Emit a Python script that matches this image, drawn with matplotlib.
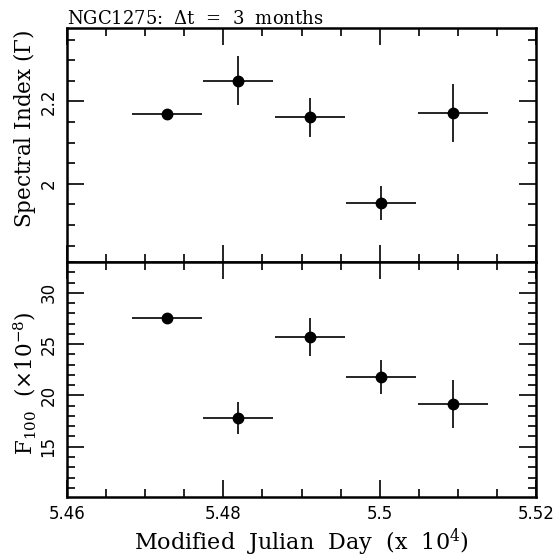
import matplotlib
matplotlib.use('Agg')
import matplotlib.pyplot as plt
from matplotlib.ticker import MultipleLocator, FixedLocator

# MJD bin centres (x 10^4) and half-widths
mjd = [5.4728, 5.4819, 5.4911, 5.5002, 5.5094]
mjd_err = [0.0045, 0.0045, 0.0045, 0.0045, 0.0045]

# spectral index
gamma = [2.170, 2.250, 2.161, 1.954, 2.172]
gamma_err = [0.0, 0.059, 0.047, 0.041, 0.071]

# flux above 100 MeV (x 10^-8)
flux = [27.5, 17.8, 25.7, 21.8, 19.2]
flux_err = [0.0, 1.6, 1.85, 1.65, 2.35]

plt.rcParams['mathtext.fontset'] = 'dejavuserif'

fig = plt.figure(figsize=(5.56, 5.57), dpi=100)
W, H = 556, 557
left, right = 67 / W, 536 / W
ax1 = fig.add_axes([left, 1 - 262 / H, right - left, (262 - 28) / H])
ax2 = fig.add_axes([left, 1 - 497 / H, right - left, (497 - 262) / H], sharex=ax1)

eb = dict(fmt='o', color='black', ms=7.5, elinewidth=1.2, capsize=0)
ax1.errorbar(mjd, gamma, xerr=mjd_err, yerr=gamma_err, **eb)
ax2.errorbar(mjd, flux, xerr=mjd_err, yerr=flux_err, **eb)

ax1.set_xlim(5.46, 5.52)
ax1.set_ylim(1.81, 2.378)
ax2.set_ylim(10.1, 33.0)

for ax in (ax1, ax2):
    ax.xaxis.set_major_locator(FixedLocator([5.46, 5.48, 5.50, 5.52]))
    ax.xaxis.set_minor_locator(MultipleLocator(0.005))
    ax.tick_params(which='both', direction='in', top=True, right=True, width=1.2)
    ax.tick_params(which='major', length=12)
    ax.tick_params(which='minor', length=6)
    for s in ax.spines.values():
        s.set_linewidth(1.8)

ax1.yaxis.set_major_locator(FixedLocator([2.0, 2.2]))
ax1.yaxis.set_minor_locator(MultipleLocator(0.05))
ax1.set_yticklabels(['2', '2.2'])
ax2.yaxis.set_major_locator(FixedLocator([15, 20, 25, 30]))
ax2.yaxis.set_minor_locator(MultipleLocator(1))

plt.setp(ax1.get_xticklabels(), visible=False)
ax2.set_xticklabels(['5.46', '5.48', '5.5', '5.52'])
for ax in (ax1, ax2):
    for lab in ax.get_yticklabels():
        lab.set_rotation(90)
        lab.set_va('center')
        lab.set_fontsize(12)
    ax.tick_params(axis='y', pad=7)
for lab in ax2.get_xticklabels():
    lab.set_fontsize(12)
ax2.tick_params(axis='x', pad=6)

serif = 'DejaVu Serif'
ax1.set_title(r'NGC1275:  $\Delta$t  =  3  months', family=serif, fontsize=13,
              loc='left', pad=3)
ax1.set_ylabel(r'Spectral Index ($\Gamma$)', family=serif, fontsize=15.5)
ax2.set_ylabel(r'F$_{100}$  ($\times$10$^{-8}$)', family=serif, fontsize=15.5)
ax1.yaxis.set_label_coords(-0.062, 0.568)
ax2.yaxis.set_label_coords(-0.062, 0.485)
ax2.set_xlabel(r'Modified  Julian  Day  (x  10$^4$)', family=serif, fontsize=16, labelpad=2)

fig.savefig('out.png', dpi=100)
